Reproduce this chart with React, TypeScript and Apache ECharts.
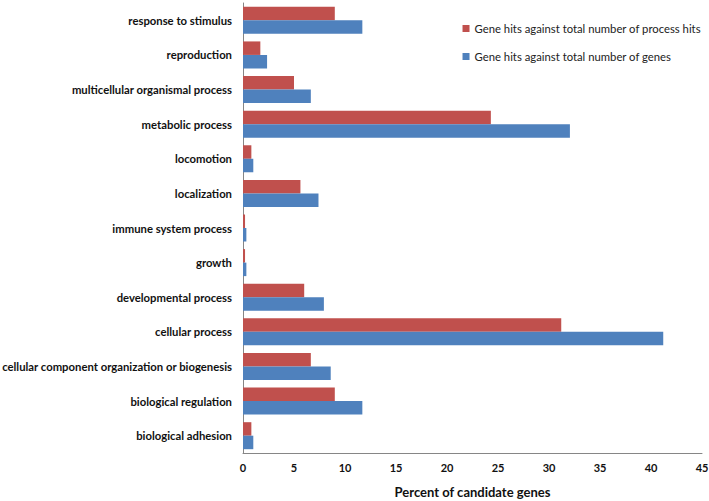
import React, { useEffect, useRef } from "react";
import * as echarts from "echarts";

const categories = [
  "response to stimulus",
  "reproduction",
  "multicellular organismal process",
  "metabolic process",
  "locomotion",
  "localization",
  "immune system process",
  "growth",
  "developmental process",
  "cellular process",
  "cellular component organization or biogenesis",
  "biological regulation",
  "biological adhesion",
];

const processHits = [9.0, 1.7, 5.0, 24.3, 0.82, 5.63, 0.2, 0.2, 6.0, 31.2, 6.65, 9.0, 0.82];
const totalGenes = [11.7, 2.36, 6.65, 32.05, 1.01, 7.4, 0.33, 0.33, 7.93, 41.2, 8.6, 11.7, 1.01];

const xTicks = { min: 0, max: 45, interval: 5 };

export default function App() {
  const ref = useRef<HTMLDivElement>(null);
  useEffect(() => {
    if (!ref.current) return;
    const chart = echarts.init(ref.current, undefined, { renderer: "svg" });
    const font = "Lato, 'Open Sans', 'Liberation Sans', sans-serif";
    chart.setOption({
      animation: false,
      backgroundColor: "#ffffff",
      textStyle: { fontFamily: font },
      grid: {
        left: 243,
        right: 7,
        top: 3,
        bottom: 48,
        containLabel: false,
        outerBoundsMode: "none",
      },
      legend: {
        orient: "vertical",
        right: 3,
        top: 18,
        itemWidth: 7,
        itemHeight: 7,
        itemGap: 17,
        icon: "rect",
        textStyle: { fontSize: 11.3, color: "#222", fontFamily: font },
        data: [
          "Gene hits against total number of process hits",
          "Gene hits against total number of genes",
        ],
      },
      xAxis: {
        type: "value",
        min: xTicks.min,
        max: xTicks.max,
        interval: xTicks.interval,
        name: "Percent of candidate genes",
        nameLocation: "middle",
        nameGap: 32,
        nameTextStyle: { fontSize: 13, fontWeight: "bold", color: "#111", fontFamily: font },
        axisLine: { show: true, lineStyle: { color: "#868686" } },
        axisTick: { show: false },
        splitLine: { show: false },
        axisLabel: { fontSize: 11, fontWeight: "bold", color: "#111", margin: 9, fontFamily: font },
      },
      yAxis: {
        type: "category",
        inverse: true,
        data: categories,
        axisLine: { show: true, lineStyle: { color: "#868686" } },
        axisTick: { show: false },
        axisLabel: { fontSize: 11.3, fontWeight: "bold", color: "#111", margin: 11, fontFamily: font },
      },
      series: [
        {
          name: "Gene hits against total number of process hits",
          type: "bar",
          data: processHits,
          itemStyle: { color: "#C0504D" },
          barGap: "0%",
          barCategoryGap: "22%",
        },
        {
          name: "Gene hits against total number of genes",
          type: "bar",
          data: totalGenes,
          itemStyle: { color: "#4F81BD" },
          barGap: "0%",
          barCategoryGap: "22%",
        },
      ],
    });
    return () => chart.dispose();
  }, []);
  return (
    <div
      ref={ref}
      style={{ position: "fixed", left: 0, top: 0, width: 709, height: 501 }}
    />
  );
}
